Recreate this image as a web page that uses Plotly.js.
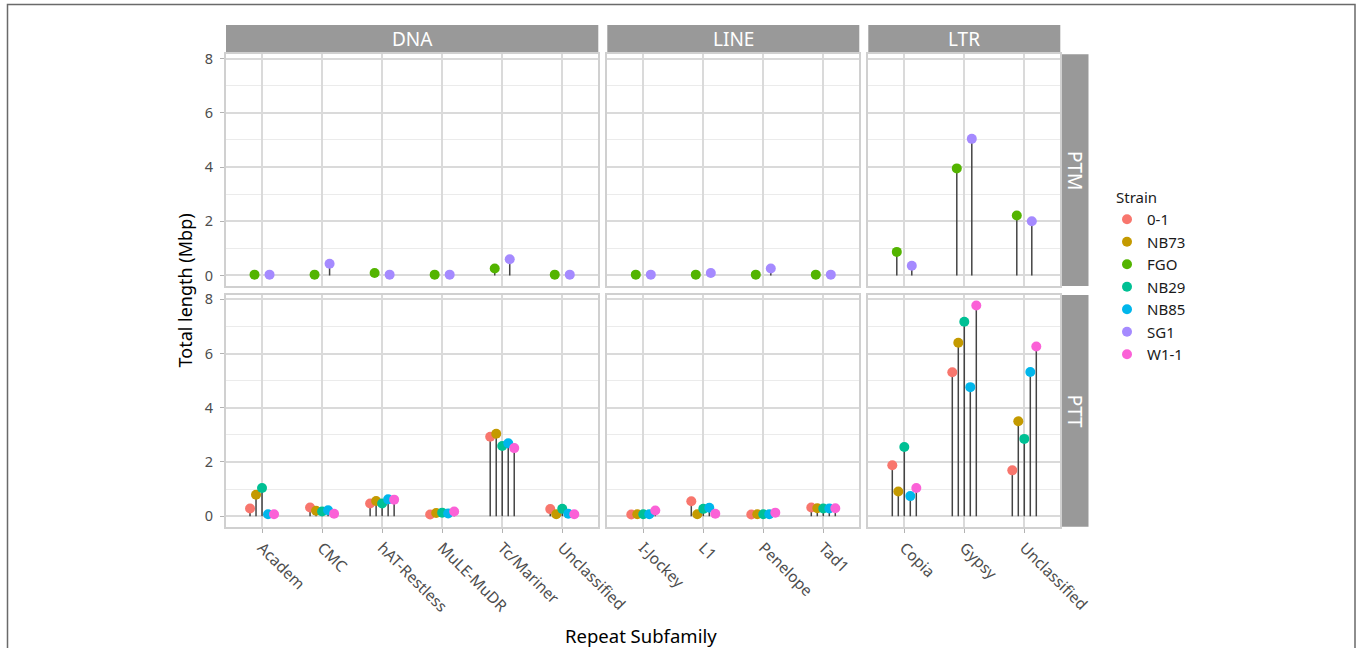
<!DOCTYPE html>
<html>
<head>
<meta charset="utf-8">
<script src="https://cdn.plot.ly/plotly-3.0.1.min.js"></script>
<style>html,body{margin:0;padding:0;background:#fff;}#chart{width:1358px;height:648px;}</style>
</head>
<body>
<div id="chart"></div>
<script>
// ---- data ----
const strains = ['0-1','NB73','FGO','NB29','NB85','SG1','W1-1'];
const strainColors = ['#F8766D','#C49A00','#53B400','#00C094','#00B6EB','#A58AFF','#FB61D7'];
const classes = ['DNA','LINE','LTR'];
const rows = ['PTM','PTT'];
const dnaCats = ['Academ','CMC','hAT-Restless','MuLE-MuDR','Tc/Mariner','Unclassified'];
const lineCats = ['I-Jockey','L1','Penelope','Tad1'];
const ltrCats = ['Copia','Gypsy','Unclassified'];
const yTicks = [0,2,4,6,8];

// values in Mbp, order: DNA cats, LINE cats, LTR cats
const ptm_FGO  = [0.03,0.03,0.09,0.03,0.26,0.03,  0.03,0.03,0.03,0.03,  0.87,3.95,2.21];
const ptm_SG1  = [0.03,0.43,0.03,0.03,0.60,0.03,  0.03,0.09,0.26,0.03,  0.36,5.04,2.00];
const ptt_0_1  = [0.28,0.32,0.47,0.06,2.93,0.26,  0.06,0.55,0.06,0.32,  1.88,5.31,1.69];
const ptt_NB73 = [0.79,0.20,0.56,0.12,3.04,0.07,  0.07,0.07,0.07,0.29,  0.91,6.40,3.50];
const ptt_NB29 = [1.04,0.17,0.47,0.13,2.59,0.27,  0.07,0.27,0.07,0.28,  2.55,7.17,2.85];
const ptt_NB85 = [0.07,0.22,0.62,0.10,2.69,0.09,  0.07,0.31,0.07,0.28,  0.74,4.76,5.32];
const ptt_W1_1 = [0.07,0.09,0.61,0.17,2.51,0.07,  0.21,0.09,0.13,0.29,  1.04,7.77,6.26];

const rowSeries = {
  PTM: [['FGO', ptm_FGO], ['SG1', ptm_SG1]],
  PTT: [['0-1', ptt_0_1], ['NB73', ptt_NB73], ['NB29', ptt_NB29], ['NB85', ptt_NB85], ['W1-1', ptt_W1_1]]
};
const catsByClass = [dnaCats, lineCats, ltrCats];

// ---- layout geometry (pixels) ----
const W = 1358, H = 648;
const colPx = [[226, 598.3], [607.3, 859.3], [868.3, 1060.3]];
const rowPx = [[54.3, 286], [295, 526.7]];
const fx = p => p / W, fy = p => 1 - p / H;

let maxV = 0;
[ptm_FGO, ptm_SG1, ptt_0_1, ptt_NB73, ptt_NB29, ptt_NB85, ptt_W1_1].forEach(a => a.forEach(v => { if (v > maxV) maxV = v; }));
const yRange = [-0.05 * maxV, 1.05 * maxV];

const font = 'Noto Sans, Open Sans, DejaVu Sans, sans-serif';
const layout = {
  width: W, height: H,
  margin: {l: 0, r: 0, t: 0, b: 0},
  paper_bgcolor: '#fff', plot_bgcolor: '#fff',
  font: {family: font, color: '#4D4D4D'},
  showlegend: true,
  legend: {
    x: fx(1107), y: fy(203), xanchor: 'left', yanchor: 'top',
    font: {size: 15, color: '#1a1a1a'}, bgcolor: 'rgba(0,0,0,0)', tracegroupgap: 0,
    itemwidth: 30
  },
  shapes: [], annotations: []
};

const traces = [];
const segTraces = [];

function axName(r, c) { const i = r * 3 + c + 1; return i === 1 ? '' : String(i); }

rows.forEach((rowName, r) => {
  classes.forEach((cls, c) => {
    const idx = axName(r, c);
    const cats = catsByClass[c];
    const xa = {
      domain: [fx(colPx[c][0]), fx(colPx[c][1])],
      anchor: 'y' + idx,
      range: [0.4, cats.length + 0.6],
      tickmode: 'array',
      tickvals: cats.map((_, i) => i + 1),
      ticktext: cats,
      showgrid: true, gridcolor: '#DADADA', gridwidth: 2,
      zeroline: false,
      showline: true, mirror: true, linecolor: '#D0D0D0', linewidth: 2,
      fixedrange: true
    };
    if (r === 1) {
      Object.assign(xa, {ticks: 'outside', ticklen: 4, tickcolor: '#B3B3B3', tickwidth: 1,
        tickangle: 45, tickfont: {size: 15.5, color: '#4D4D4D', family: font}, showticklabels: true});
    } else {
      Object.assign(xa, {ticks: '', showticklabels: false});
    }
    const ya = {
      domain: [fy(rowPx[r][1]), fy(rowPx[r][0])],
      anchor: 'x' + idx,
      range: yRange,
      tickmode: 'array', tickvals: yTicks, ticktext: yTicks.map(String),
      showgrid: true, gridcolor: '#DADADA', gridwidth: 2,
      minor: {tickmode: 'linear', tick0: 0, dtick: 1, showgrid: true, gridcolor: '#EBEBEB', gridwidth: 1, ticks: ''},
      zeroline: false,
      showline: true, mirror: true, linecolor: '#D0D0D0', linewidth: 2,
      fixedrange: true
    };
    if (c === 0) {
      Object.assign(ya, {ticks: 'outside', ticklen: 4, tickcolor: '#B3B3B3', tickwidth: 1,
        tickfont: {size: 14.5, color: '#4D4D4D', family: font}, ticklabelstandoff: 4});
    } else {
      Object.assign(ya, {ticks: '', showticklabels: false});
    }
    layout['xaxis' + idx] = xa;
    layout['yaxis' + idx] = ya;
  });
});

// offsets into the concatenated arrays for each class
const classStart = [0, dnaCats.length, dnaCats.length + lineCats.length];

// segments first (drawn under points)
rows.forEach((rowName, r) => {
  const series = rowSeries[rowName];
  const n = series.length;
  classes.forEach((cls, c) => {
    const idx = axName(r, c);
    const cats = catsByClass[c];
    const xs = [], ys = [];
    series.forEach(([sName, vals], k) => {
      const off = (k - (n - 1) / 2) * 0.5 / n;
      cats.forEach((cat, i) => {
        const v = vals[classStart[c] + i];
        xs.push(i + 1 + off, i + 1 + off, null);
        ys.push(0, v, null);
      });
    });
    segTraces.push({
      type: 'scatter', mode: 'lines', x: xs, y: ys,
      xaxis: 'x' + idx, yaxis: 'y' + idx,
      line: {color: '#444444', width: 1.5},
      showlegend: false, hoverinfo: 'skip'
    });
  });
});

// points, in strain order so the legend follows it
const legendShown = {};
strains.forEach((sName, si) => {
  rows.forEach((rowName, r) => {
    const series = rowSeries[rowName];
    const n = series.length;
    const k = series.findIndex(s => s[0] === sName);
    if (k < 0) return;
    const vals = series[k][1];
    const off = (k - (n - 1) / 2) * 0.5 / n;
    classes.forEach((cls, c) => {
      const idx = axName(r, c);
      const cats = catsByClass[c];
      traces.push({
        type: 'scatter', mode: 'markers',
        x: cats.map((_, i) => i + 1 + off),
        y: cats.map((_, i) => vals[classStart[c] + i]),
        xaxis: 'x' + idx, yaxis: 'y' + idx,
        name: sName, legendgroup: sName,
        showlegend: !legendShown[sName],
        marker: {color: strainColors[si], size: 10, line: {width: 0}},
        hovertemplate: sName + ': %{y}<extra></extra>'
      });
      legendShown[sName] = true;
    });
  });
});

// strips
classes.forEach((cls, c) => {
  layout.shapes.push({type: 'rect', xref: 'paper', yref: 'paper',
    x0: fx(colPx[c][0]), x1: fx(colPx[c][1]), y0: fy(53.3), y1: fy(25),
    fillcolor: '#999999', line: {width: 0}, layer: 'below'});
  layout.annotations.push({xref: 'paper', yref: 'paper',
    x: fx((colPx[c][0] + colPx[c][1]) / 2), y: fy(39.5), xanchor: 'center', yanchor: 'middle',
    text: cls, showarrow: false, font: {size: 19, color: '#ffffff', family: font}});
});
rows.forEach((rowName, r) => {
  layout.shapes.push({type: 'rect', xref: 'paper', yref: 'paper',
    x0: fx(1061), x1: fx(1088.5), y0: fy(rowPx[r][1]), y1: fy(rowPx[r][0]),
    fillcolor: '#999999', line: {width: 0}, layer: 'below'});
  layout.annotations.push({xref: 'paper', yref: 'paper',
    x: fx(1075.2), y: fy((rowPx[r][0] + rowPx[r][1]) / 2), xanchor: 'center', yanchor: 'middle',
    text: rowName, textangle: 90, showarrow: false, font: {size: 19, color: '#ffffff', family: font}});
});

// legend title
layout.annotations.push({xref: 'paper', yref: 'paper', x: fx(1114), y: fy(197),
  xanchor: 'left', yanchor: 'middle', showarrow: false,
  text: 'Strain', font: {size: 15, color: '#1a1a1a', family: font}});

// axis titles
layout.annotations.push({xref: 'paper', yref: 'paper', x: fx(185), y: fy(290.5),
  xanchor: 'center', yanchor: 'middle', textangle: -90, showarrow: false,
  text: 'Total length (Mbp)', font: {size: 18, color: '#000000', family: font}});
layout.annotations.push({xref: 'paper', yref: 'paper', x: fx(641), y: fy(635),
  xanchor: 'center', yanchor: 'middle', showarrow: false,
  text: 'Repeat Subfamily', font: {size: 18.5, color: '#000000', family: font}});

// outer frame
layout.shapes.push({type: 'rect', xref: 'paper', yref: 'paper',
  x0: fx(7.5), x1: fx(1355), y0: -0.05, y1: fy(4.5),
  line: {color: '#6a6a6a', width: 1.5}, fillcolor: 'rgba(0,0,0,0)', layer: 'above'});

Plotly.newPlot('chart', segTraces.concat(traces), layout, {displayModeBar: false, staticPlot: true});
</script>
</body>
</html>
